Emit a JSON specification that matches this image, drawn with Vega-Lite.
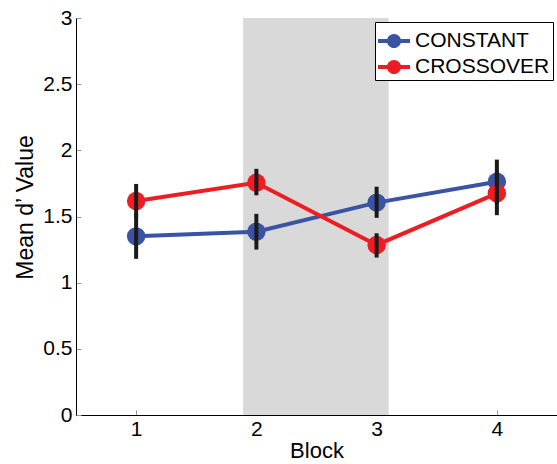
{
  "$schema": "https://vega.github.io/schema/vega-lite/v6.json",
  "width": 481,
  "height": 397,
  "autosize": "none",
  "padding": {"left": 76, "top": 18, "right": 0, "bottom": 49},
  "background": "white",
  "config": {
    "view": {"stroke": null},
    "font": "Liberation Sans",
    "axis": {
      "domainColor": "black",
      "domainWidth": 1,
      "tickColor": "#999999",
      "tickSize": -5,
      "grid": false,
      "labelColor": "black",
      "labelFontSize": 21,
      "labelFont": "Liberation Sans",
      "titleFont": "Liberation Sans",
      "titleFontSize": 22,
      "titleFontWeight": "normal",
      "titleColor": "black",
      "format": "~g"
    }
  },
  "datasets": {
    "means": [
      {"group": "CONSTANT", "block": 1, "mean": 1.35, "lo": 1.18, "hi": 1.52},
      {"group": "CONSTANT", "block": 2, "mean": 1.385, "lo": 1.25, "hi": 1.52},
      {"group": "CONSTANT", "block": 3, "mean": 1.605, "lo": 1.49, "hi": 1.725},
      {"group": "CONSTANT", "block": 4, "mean": 1.763, "lo": 1.596, "hi": 1.93},
      {"group": "CROSSOVER", "block": 1, "mean": 1.617, "lo": 1.49, "hi": 1.746},
      {"group": "CROSSOVER", "block": 2, "mean": 1.755, "lo": 1.66, "hi": 1.86},
      {"group": "CROSSOVER", "block": 3, "mean": 1.285, "lo": 1.19, "hi": 1.373},
      {"group": "CROSSOVER", "block": 4, "mean": 1.675, "lo": 1.51, "hi": 1.84}
    ],
    "shade": [{"x1": 1.89, "x2": 3.1}]
  },
  "layer": [
    {
      "data": {"name": "shade"},
      "mark": {"type": "rect", "color": "#D9D9D9"},
      "encoding": {
        "x": {"field": "x1", "type": "quantitative", "scale": {"domain": [0.5, 4.5], "nice": false, "zero": false},
          "axis": {"values": [1, 2, 3, 4], "format": "~g", "title": "Block", "labelPadding": 8, "titlePadding": 1}},
        "x2": {"field": "x2"}
      }
    },
    {
      "data": {"name": "means"},
      "mark": {"type": "line", "strokeWidth": 4},
      "encoding": {
        "x": {"field": "block", "type": "quantitative"},
        "y": {"field": "mean", "type": "quantitative", "scale": {"domain": [0, 3], "nice": false},
          "axis": {"values": [0, 0.5, 1, 1.5, 2, 2.5, 3], "format": "~g", "title": "Mean  d’ Value", "titleFontSize": 23, "labelPadding": 9, "titlePadding": 5, "titleY": 189}},
        "color": {"field": "group", "type": "nominal", "scale": {"domain": ["CONSTANT", "CROSSOVER"], "range": ["#3A53A4", "#EE1D23"]}}
      }
    },
    {
      "data": {"name": "means"},
      "mark": {"type": "point", "filled": true, "opacity": 1, "shape": "circle", "size": 340},
      "encoding": {
        "x": {"field": "block", "type": "quantitative"},
        "y": {"field": "mean", "type": "quantitative"},
        "color": {"field": "group", "type": "nominal",
          "legend": {
            "title": null,
            "orient": "top-right",
            "offset": 4,
            "strokeColor": "black",
            "fillColor": "white",
            "padding": 3,
            "rowPadding": 0,
            "labelFontSize": 21,
            "labelColor": "black",
            "labelOffset": 5,
            "symbolSize": 1024,
            "symbolStrokeWidth": 0,
            "symbolOpacity": 1,
            "symbolType": "M-1,-0.125H1V0.125H-1Z M0.44,0A0.44,0.44,0,1,1,-0.44,0A0.44,0.44,0,1,1,0.44,0Z"
          }}
      }
    },
    {
      "data": {"name": "means"},
      "mark": {"type": "rule", "color": "#1a1a1a", "strokeWidth": 4},
      "encoding": {
        "x": {"field": "block", "type": "quantitative"},
        "y": {"field": "lo", "type": "quantitative"},
        "y2": {"field": "hi"}
      }
    }
  ]
}
